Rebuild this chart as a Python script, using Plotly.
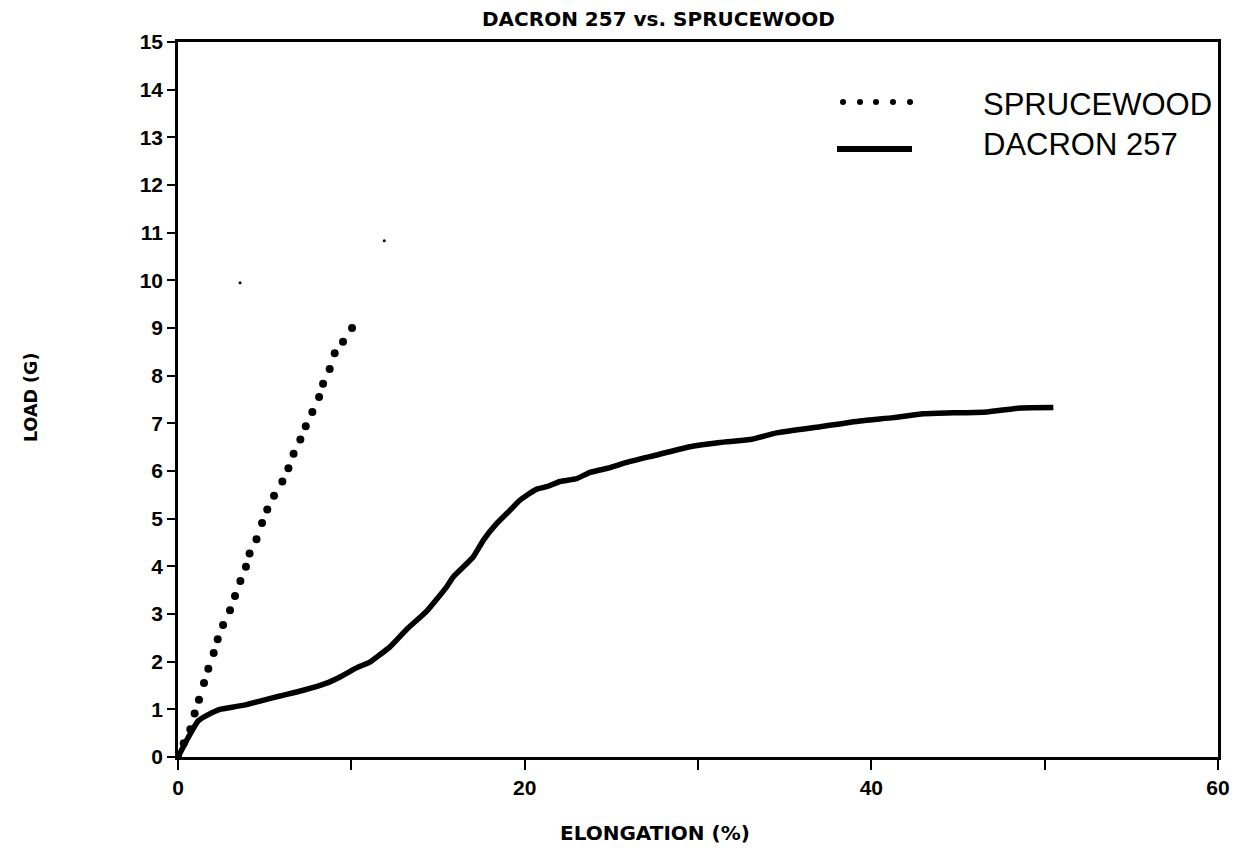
import plotly.graph_objects as go

# ---- data ----
spruce_x = [0.0, 0.33, 0.71, 0.96, 1.21, 1.5, 1.75, 2.06, 2.29, 2.6, 3.0, 3.29, 3.6, 3.92, 4.13,
            4.53, 4.85, 5.15, 5.54, 6.02, 6.37, 6.67, 7.06, 7.37, 7.75, 8.14, 8.37, 8.75, 9.04,
            9.52, 10.04]
spruce_y = [0.0, 0.29, 0.58, 0.91, 1.2, 1.55, 1.85, 2.18, 2.47, 2.77, 3.08, 3.38, 3.69, 3.99, 4.27,
            4.57, 4.91, 5.19, 5.48, 5.78, 6.06, 6.36, 6.66, 6.94, 7.24, 7.55, 7.83, 8.14, 8.47,
            8.71, 9.0]

speck_x = [3.58, 11.9]
speck_y = [9.95, 10.83]

dacron_x = [0.0, 0.5, 1.17, 1.8, 2.42, 3.2, 3.96, 5.0, 5.88, 7.23, 8.57, 9.35, 10.3, 11.07, 11.66,
            12.23, 13.2, 14.35, 15.5, 15.89, 17.04, 17.62, 18.39, 19.16, 19.73, 20.7, 21.27, 22.04,
            23.0, 23.77, 24.93, 25.89, 27.43, 29.54, 31.27, 33.0, 34.54, 37.05, 39.35, 41.27, 43.0,
            44.74, 46.66, 48.58, 50.5]
dacron_y = [0.0, 0.35, 0.76, 0.9, 1.0, 1.05, 1.1, 1.2, 1.28, 1.4, 1.55, 1.68, 1.87, 1.99, 2.15,
            2.31, 2.68, 3.06, 3.57, 3.78, 4.2, 4.55, 4.9, 5.18, 5.39, 5.62, 5.67, 5.78,
            5.84, 5.97, 6.07, 6.18, 6.32, 6.51, 6.6, 6.66, 6.8, 6.93, 7.05, 7.12, 7.2,
            7.22, 7.24, 7.32, 7.33]

x_tickvals = [0, 10, 20, 30, 40, 50, 60]
x_ticktext = ["0", "", "20", "", "40", "", "60"]
y_tickvals = list(range(0, 16))

title_text = "DACRON 257 vs. SPRUCEWOOD"
x_title = "ELONGATION (%)"
y_title = "LOAD (G)"
legend_names = ["SPRUCEWOOD", "DACRON 257"]

# ---- geometry helpers (layout only) ----
W, H = 1240, 851
L, R, T, B = 178, 22, 42, 94
PW, PH = W - L - R, H - T - B


def px(xp):
    return (xp - L) / PW


def py(yp):
    return (H - B - yp) / PH


TICKFONT = dict(family="Liberation Sans, Arial", size=21, color="black", weight="bold")

fig = go.Figure()
fig.add_trace(go.Scatter(x=dacron_x, y=dacron_y, mode="lines",
                         line=dict(color="black", width=5.5, shape="spline", smoothing=0.5),
                         name=legend_names[1], showlegend=False))
fig.add_trace(go.Scatter(x=spruce_x, y=spruce_y, mode="markers",
                         marker=dict(color="black", size=8), name=legend_names[0],
                         showlegend=False))
fig.add_trace(go.Scatter(x=speck_x, y=speck_y, mode="markers",
                         marker=dict(color="black", size=3), showlegend=False,
                         hoverinfo="skip"))

fig.update_layout(
    width=W, height=H,
    margin=dict(l=L, r=R, t=T, b=B, autoexpand=False),
    paper_bgcolor="white", plot_bgcolor="white",
    showlegend=False,
    xaxis=dict(range=[0, 60], tickvals=x_tickvals, ticktext=x_ticktext,
               ticks="outside", ticklen=10, tickwidth=2, tickcolor="black",
               showline=True, linewidth=2.5, linecolor="black", mirror=True,
               showgrid=False, zeroline=False, tickfont=TICKFONT, automargin=False),
    yaxis=dict(range=[0, 15], tickvals=y_tickvals,
               ticks="outside", ticklen=8, tickwidth=2, tickcolor="black",
               showline=True, linewidth=2.5, linecolor="black", mirror=True,
               showgrid=False, zeroline=False, tickfont=TICKFONT, automargin=False),
)

annotations = [
    dict(text=title_text, x=px(658), y=py(19), xref="paper", yref="paper",
         xanchor="center", yanchor="middle", showarrow=False,
         font=dict(family="DejaVu Sans", size=20, color="black", weight="bold")),
    dict(text=x_title, x=px(655), y=py(833), xref="paper", yref="paper",
         xanchor="center", yanchor="middle", showarrow=False,
         font=dict(family="DejaVu Sans", size=20, color="black", weight="bold")),
    dict(text=y_title, x=px(31), y=py(398), xref="paper", yref="paper",
         xanchor="center", yanchor="middle", showarrow=False, textangle=-90,
         font=dict(family="DejaVu Sans", size=17.5, color="black", weight="bold")),
    dict(text=legend_names[0], x=px(981), y=py(104), xref="paper", yref="paper",
         xanchor="left", yanchor="middle", showarrow=False,
         font=dict(family="Liberation Sans, Arial", size=31, color="black")),
    dict(text=legend_names[1], x=px(981), y=py(144), xref="paper", yref="paper",
         xanchor="left", yanchor="middle", showarrow=False,
         font=dict(family="Liberation Sans, Arial", size=31, color="black")),
]

shapes = [dict(type="line", xref="paper", yref="paper", x0=px(837), x1=px(912),
               y0=py(149), y1=py(149), line=dict(color="black", width=6))]
for cx in [843, 860, 876, 893, 910]:
    r = 3
    shapes.append(dict(type="circle", xref="paper", yref="paper",
                       x0=px(cx - r), x1=px(cx + r), y0=py(102 + r), y1=py(102 - r),
                       fillcolor="black", line=dict(width=0)))

fig.update_layout(annotations=annotations, shapes=shapes)

fig.write_html("out.html")
